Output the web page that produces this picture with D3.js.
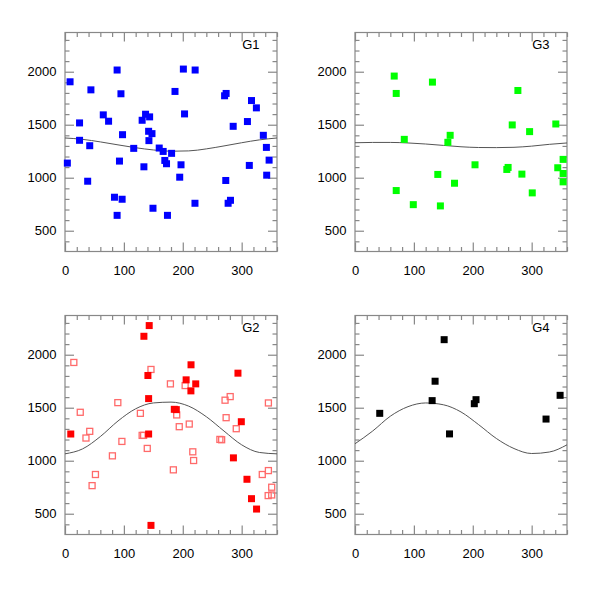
<!DOCTYPE html>
<html>
<head>
<meta charset="utf-8">
<script src="https://cdn.jsdelivr.net/npm/d3@7"></script>
<style>
  body { margin: 0; background: #fff; }
  svg { display: block; }
  .tick text { font-family: "Liberation Sans", Arial, sans-serif; font-size: 13px; fill: #000; }
  .tick line { stroke: #888; stroke-width: 1.2; }
  .label { font-family: "Liberation Sans", Arial, sans-serif; font-size: 13px; fill: #000; }
</style>
</head>
<body>
<svg id="chart" width="598" height="598"></svg>
<script>
// point data
const g1X = [4, 8.6, 24.7, 24.7, 42, 44, 38.5, 65, 74, 88.5, 95, 97.7, 92.5, 84, 88.5, 97,
    116.7, 131, 136.8, 143.7, 142, 147.7, 142.5, 134, 149.4, 160, 166.7, 169.5, 172.4, 181,
    186.8, 174, 201, 203, 197, 194.8, 221, 220.7, 271, 273.6, 285.6, 273, 277, 281, 309.8,
    316.7, 325, 313, 336.8, 342, 346.6, 342.5];
const g1Y = [1138, 1905, 1517, 1353, 1302, 1829, 967, 1593, 1533, 2016, 1792, 1406, 1157, 816, 645, 797,
    1277, 1542, 1599, 1574, 1438, 1416, 1350, 1103, 712, 1280, 1248, 1163, 1132, 1230,
    1814, 645, 2025, 1602, 1122, 1005, 2016, 759, 1773, 1795, 1485, 974, 759, 787, 1530,
    1728, 1659, 1116, 1400, 1286, 1166, 1024];

const g3X = [66.6, 70, 83.7, 70, 99, 131.5, 157.7, 161.6, 140.6, 145, 169, 203.8, 257.8, 260,
    267, 276.6, 283.4, 296.5, 301, 341, 344.3, 353.4, 353.4, 353.4];
const g3Y = [1959, 1795, 1362, 879, 746, 1902, 1334, 1400, 1031, 734, 948, 1122, 1078, 1097,
    1498, 1823, 1034, 1435, 857, 1507, 1094, 1173, 1040, 961];

const g2X = [9.8, 143, 134, 140.8, 142, 142, 146, 185.6, 189, 205.7, 214, 222, 213.8, 293.7,
    299.4, 286, 309, 316.7, 325.3];
const g2Y = [1252, 2275, 2174, 1804, 1586, 1252, 390, 1485, 1482, 1763, 1905, 1725, 1659, 1826,
    1368, 1027, 825, 642, 544];

const g2OpenX = [15, 25.9, 42, 35.6, 51.7, 46, 80.5, 89.7, 96.6, 128, 131, 133.5, 139.7, 146,
    179, 204, 189.7, 194, 211, 217, 218.4, 184, 263, 266, 271.8, 280.5, 273.6, 290.8, 345.4,
    335, 345.4, 345, 351, 351];
const g2OpenY = [1927, 1457, 1277, 1214, 870, 765, 1046, 1548, 1182, 1447, 1239, 1239, 1116, 1861,
    1725, 1709, 1432, 1321, 1346, 1084, 1002, 914, 1201, 1198, 1571, 1605, 1406, 1302, 1545,
    870, 907, 671, 677, 750];

const g4X = [42, 131, 136, 151.4, 160.5, 202.6, 205.5, 324.4, 348.3];
const g4Y = [1447, 1567, 1750, 2142, 1253, 1538, 1576, 1393, 1617];

// fitted curves, sampled every 30 degrees
const curveX = [0, 30, 60, 90, 120, 150, 180, 210, 240, 270, 300, 330, 360];
const g1Curve = [1375, 1362, 1338, 1310, 1283, 1262, 1250, 1253, 1272, 1300, 1330, 1357, 1375];
const g3Curve = [1330, 1333, 1333, 1328, 1318, 1305, 1292, 1285, 1284, 1287, 1298, 1315, 1328];
const g2Curve = [1065, 1112, 1228, 1375, 1490, 1545, 1553, 1515, 1415, 1280, 1150, 1078, 1065];
const g4Curve = [1160, 1280, 1420, 1510, 1545, 1528, 1460, 1340, 1210, 1115, 1068, 1082, 1150];

const xMajor = [0, 100, 200, 300];
const yMajor = [500, 1000, 1500, 2000];

const width = 212;
const height = 219;
const markSize = 7;

const panels = [
    { name: "G1", xs: g1X, ys: g1Y, color: "#0000ff", curve: g1Curve, left: 65, top: 32.5 },
    { name: "G3", xs: g3X, ys: g3Y, color: "#00ff00", curve: g3Curve, left: 355, top: 32.5 },
    { name: "G2", xs: g2X, ys: g2Y, color: "#ff0000", curve: g2Curve, left: 65, top: 315.5,
      openXs: g2OpenX, openYs: g2OpenY },
    { name: "G4", xs: g4X, ys: g4Y, color: "#000000", curve: g4Curve, left: 355, top: 315.5 }
];

const svg = d3.select("#chart");

const xScale = d3.scaleLinear().domain([0, 360]).range([0, width]);
const yScale = d3.scaleLinear().domain([304, 2370]).range([height, 0]);

const xMinor = d3.range(0, 361, 20).filter(v => !xMajor.includes(v));
const yMinor = d3.range(400, 2370, 100).filter(v => !yMajor.includes(v));

panels.forEach(p => {
    const g = svg.append("g").attr("transform", `translate(${p.left}, ${p.top})`);

    // minor ticks, all four sides, pointing inward
    g.append("g").call(d3.axisLeft(yScale).tickValues(yMinor).tickSize(-4.5).tickFormat(""));
    g.append("g").attr("transform", `translate(${width}, 0)`)
        .call(d3.axisRight(yScale).tickValues(yMinor).tickSize(-4.5).tickFormat(""));
    g.append("g").attr("transform", `translate(0, ${height})`)
        .call(d3.axisBottom(xScale).tickValues(xMinor).tickSize(-4.5).tickFormat(""));
    g.append("g").call(d3.axisTop(xScale).tickValues(xMinor).tickSize(-4.5).tickFormat(""));

    // major ticks, labels on left and bottom only
    g.append("g")
        .call(d3.axisLeft(yScale).tickValues(yMajor).tickSize(-9).tickPadding(8.5).tickFormat(d3.format("d")));
    g.append("g").attr("transform", `translate(${width}, 0)`)
        .call(d3.axisRight(yScale).tickValues(yMajor).tickSize(-9).tickFormat(""));
    g.append("g").attr("transform", `translate(0, ${height})`)
        .call(d3.axisBottom(xScale).tickValues(xMajor).tickSize(-9).tickPadding(14).tickFormat(d3.format("d")));
    g.append("g")
        .call(d3.axisTop(xScale).tickValues(xMajor).tickSize(-9).tickFormat(""));

    g.selectAll(".domain").remove();

    g.append("rect")
        .attr("width", width)
        .attr("height", height)
        .attr("fill", "none")
        .attr("stroke", "#888")
        .attr("stroke-width", 1.2);

    const line = d3.line()
        .x((d, i) => xScale(curveX[i]))
        .y(d => yScale(d))
        .curve(d3.curveMonotoneX);

    g.append("path")
        .datum(p.curve)
        .attr("d", line)
        .attr("fill", "none")
        .attr("stroke", "#555")
        .attr("stroke-width", 1);

    if (p.openXs) {
        g.selectAll(".open")
            .data(p.openXs)
            .enter()
            .append("rect")
            .attr("class", "open")
            .attr("x", d => xScale(d) - markSize / 2 + 0.5)
            .attr("y", (d, i) => yScale(p.openYs[i]) - markSize / 2 + 0.5)
            .attr("width", markSize - 1)
            .attr("height", markSize - 1)
            .attr("fill", "none")
            .attr("stroke", "#ff6a6a")
            .attr("stroke-width", 1.3);
    }

    g.selectAll(".pt")
        .data(p.xs)
        .enter()
        .append("rect")
        .attr("class", "pt")
        .attr("x", d => xScale(d) - markSize / 2)
        .attr("y", (d, i) => yScale(p.ys[i]) - markSize / 2)
        .attr("width", markSize)
        .attr("height", markSize)
        .attr("fill", p.color);

    g.append("text")
        .attr("class", "label")
        .attr("x", width - 17.5)
        .attr("y", 16.2)
        .attr("text-anchor", "end")
        .text(p.name);
});
</script>
</body>
</html>
